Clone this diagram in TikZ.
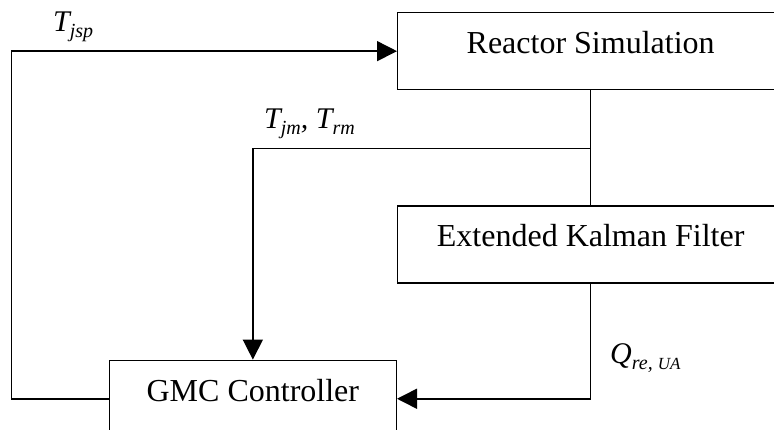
\documentclass[tikz,border=0pt]{standalone}
\usepackage{fontspec}
\setmainfont{Liberation Serif}
\usetikzlibrary{arrows.meta, positioning}
\newcommand{\sbs}[1]{\raisebox{-6pt}{\fontsize{20}{22}\selectfont #1}}
\tikzset{
  blk/.style={rectangle, draw=black, line width=1.3pt, inner sep=0pt, text height=41pt, text depth=36pt, font=\fontsize{32}{38}\selectfont},
  lbl/.style={inner sep=0pt, font=\fontsize{30}{36}\selectfont\itshape},
  wire/.style={line width=1.5pt},
  arr/.style={-{Triangle[length=20pt, width=20pt]}, line width=1.5pt},
}
\begin{document}
\begin{tikzpicture}[x=1pt, y=-1pt]
\useasboundingbox (0,0) rectangle (774,430);
\clip (0,0) rectangle (774,430);
\node[blk, minimum width=386pt, anchor=north west] (rsim) at (397,12) {Reactor Simulation};
\node[blk, minimum width=386pt, below=115pt of rsim] (ekf) {Extended Kalman Filter};
\node[blk, minimum width=287pt, below left=76pt and 0pt of ekf] (gmc) {GMC Controller};
\coordinate[below=58pt of rsim.south] (tap);
% measurements and estimates
\draw[wire] (rsim.south) -- (ekf.north);
\draw[arr] (tap) -| (gmc.north);
\draw[arr] (ekf.south) |- (gmc.east);
% setpoint back to the reactor
\draw[arr] (gmc.west) -- ++(-97,0) |- (rsim.west);
\node[lbl, anchor=base west] (tjsp) at (53,32) {T\sbs{jsp}};
\node[lbl, anchor=base west] (tmeas) at (264,129) {T\sbs{jm}, T\sbs{rm}};
\node[lbl, anchor=base west] (qua) at (610,363) {Q\sbs{re, {\fontsize{17}{19}\selectfont UA}}};
\end{tikzpicture}
\end{document}
